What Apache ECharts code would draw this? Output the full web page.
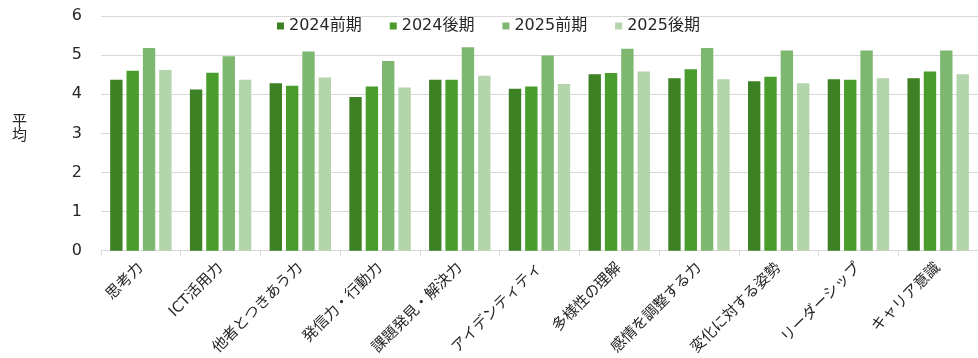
<!DOCTYPE html>
<html>
<head>
<meta charset="utf-8">
<script src="https://cdn.jsdelivr.net/npm/echarts@6/dist/echarts.min.js"></script>
<style>
  html, body { margin: 0; padding: 0; background: #fff; }
  #chart { width: 978px; height: 358px; }
</style>
</head>
<body>
<div id="chart"></div>
<script>
// Competency categories and average scores per survey period
const categories = ['思考力', 'ICT活用力', '他者とつきあう力', '発信力・行動力', '課題発見・解決力',
  'アイデンティティ', '多様性の理解', '感情を調整する力', '変化に対する姿勢', 'リーダーシップ', 'キャリア意識'];
const seriesNames = ['2024前期', '2024後期', '2025前期', '2025後期'];
const v2024a = [4.37, 4.12, 4.28, 3.93, 4.37, 4.14, 4.51, 4.41, 4.33, 4.38, 4.41];
const v2024b = [4.60, 4.55, 4.22, 4.20, 4.37, 4.20, 4.54, 4.64, 4.45, 4.37, 4.58];
const v2025a = [5.18, 4.97, 5.09, 4.85, 5.20, 4.99, 5.16, 5.18, 5.12, 5.12, 5.12];
const v2025b = [4.62, 4.37, 4.43, 4.17, 4.47, 4.26, 4.58, 4.38, 4.28, 4.41, 4.51];
const yTicks = [0, 1, 2, 3, 4, 5, 6];
const yTitle = '平\n均';

const colors = ['#3d8124', '#4a9c2c', '#7eb770', '#b4d4ac'];
const values = [v2024a, v2024b, v2025a, v2025b];
const font = '"DejaVu Sans", "Noto Sans CJK JP", sans-serif';
const cjkFont = '"Noto Sans CJK JP", sans-serif';

const chart = echarts.init(document.getElementById('chart'));
chart.setOption({
  animation: false,
  color: colors,
  textStyle: { fontFamily: font },
  // vertical axis title, stacked one character per line
  graphic: [{
    type: 'text',
    left: 12,
    top: 113,
    style: { text: yTitle, fontSize: 15, lineHeight: 14, fill: '#262626', fontFamily: cjkFont }
  }],
  legend: {
    top: 13,
    left: 272,
    icon: 'rect',
    itemWidth: 7,
    itemHeight: 7,
    itemGap: 28,
    textStyle: { fontSize: 16, color: '#262626', fontFamily: font },
    data: seriesNames
  },
  grid: { left: 101, right: -12, top: 16, bottom: 105, containLabel: false },
  xAxis: {
    type: 'category',
    data: categories,
    axisLine: { lineStyle: { color: '#d9d9d9' } },
    axisTick: { show: true, length: 5, lineStyle: { color: '#d9d9d9' } },
    axisLabel: { rotate: 45, fontSize: 15, color: '#262626', margin: 15, interval: 0, fontFamily: font }
  },
  yAxis: {
    type: 'value',
    min: yTicks[0],
    max: yTicks[yTicks.length - 1],
    interval: 1,
    axisLine: { show: false },
    axisTick: { show: false },
    axisLabel: { fontSize: 16, color: '#262626', margin: 19, fontFamily: font },
    splitLine: { lineStyle: { color: '#d9d9d9', width: 1 } }
  },
  series: seriesNames.map((name, i) => ({
    name: name,
    type: 'bar',
    data: values[i],
    barGap: '32%',
    barCategoryGap: '23%',
    itemStyle: { color: colors[i] }
  }))
});
</script>
</body>
</html>
